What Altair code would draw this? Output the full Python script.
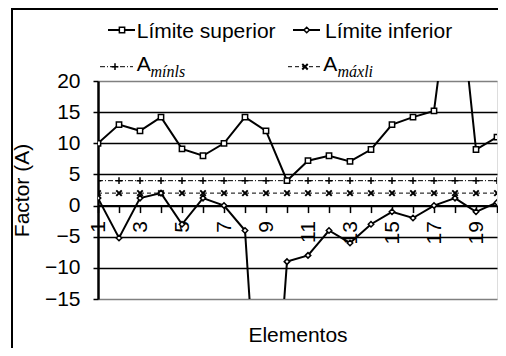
import altair as alt
import pandas as pd

# ---- data ----
elements = list(range(1, 21))
upper = [10, 13, 12, 14.2, 9.1, 8, 10, 14.2, 12, 4, 7.2, 8, 7.1, 9, 13, 14.2, 15.2, 41, 9, 11]
lower = [1.2, -5.2, 1.2, 2, -3, 1.2, 0, -4, -55, -9, -8, -4, -6, -3, -1, -2, 0, 1.2, -1, 0.5]
a_min = [4, 4, 4, 4, 4, 4, 4, 4, 4, 4, 4, 4, 4, 4, 4, 4, 4, 4, 4, 4]
a_max = [2, 2, 2, 2, 2, 2, 2, 2, 2, 2, 2, 2, 2, 2, 2, 2, 2, 2, 2, 2]
y_ticks = [-15, -10, -5, 0, 5, 10, 15, 20]

rows = []
for name, vals in [("sup", upper), ("inf", lower), ("amin", a_min), ("amax", a_max)]:
    for e, v in zip(elements, vals):
        rows.append({"elemento": e, "serie": name, "valor": v})
df = pd.DataFrame(rows)

W, H = 399, 218
FONT = "Liberation Sans"
FS = 21

xs = alt.Scale(domain=[1, 20], nice=False, zero=False)
ys = alt.Scale(domain=[-15, 20], nice=False, zero=False)

zero_offset = -(H - H * 20 / 35)

x_axis = alt.Axis(
    values=elements,
    labelExpr="datum.value % 2 == 1 ? datum.label : ''",
    labelAngle=270, labelFont=FONT, labelFontSize=FS, labelColor="black",
    labelPadding=8, labelFlush=False, labelOverlap=False,
    tickSize=7, tickColor="black", tickWidth=1.5,
    domainColor="black", domainWidth=2, grid=False,
    offset=zero_offset,
    title="Elementos", titleFont=FONT, titleFontSize=FS, titleFontWeight="normal",
    titleColor="black", titleX=W / 2, titleY=136, titleAlign="center",
    titleBaseline="alphabetic", titleAngle=0,
)
y_axis = alt.Axis(
    values=y_ticks, labelFont=FONT, labelFontSize=FS, labelColor="black",
    labelPadding=13, labelFlush=False,
    tickSize=5, tickColor="black", tickWidth=1.5,
    domainColor="black", domainWidth=2.5,
    grid=True, gridWidth=1.5,
    gridColor={"condition": {"test": "datum.value == 20 || datum.value == -15", "value": "#808080"},
               "value": "black"},
    title="Factor (A)", titleFont=FONT, titleFontSize=FS, titleFontWeight="normal",
    titleColor="black", titleX=-76, titleY=H / 2, titleAngle=270, titleAlign="center",
    titleBaseline="middle",
)

X = alt.X("elemento:Q", scale=xs, axis=x_axis)
Y = alt.Y("valor:Q", scale=ys, axis=y_axis)

base = alt.Chart(df)
PLUS = "M-1,0H1M0,-1V1"
CROSS = "M-1,-1L1,1M-1,1L1,-1"

def series(key, shape, size, dash=None, lw=2, pw=1.5, fill="white"):
    b = base.transform_filter(alt.datum.serie == key)
    lkw = dict(color="black", strokeWidth=lw, clip=True)
    if dash:
        lkw["strokeDash"] = dash
    line = b.mark_line(**lkw).encode(x=X, y=Y)
    pt = b.mark_point(shape=shape, size=size, fill=fill, filled=False, stroke="black",
                      strokeWidth=pw, opacity=1, fillOpacity=1, clip=True).encode(x=X, y=Y)
    return [line, pt]

layers = []
layers += series("amin", PLUS, 45, dash=[5, 2, 1, 2], lw=1, pw=1.5, fill="none")
layers += series("amax", CROSS, 30, dash=[4, 3], lw=1, pw=2, fill="none")
layers += series("sup", "square", 28)
layers += series("inf", "diamond", 30)

# ---- manual legend (so that the subscripts can be shown) ----
dummy = alt.Data(values=[{"k": 0}])

def legend_item(x0, x1, xm, y, shape, size, dash, lw, pw, fill, label, xt, yt, sub=None, xs_=None, ys_=None):
    out = []
    rk = dict(color="black", strokeWidth=lw)
    if dash:
        rk["strokeDash"] = dash
    out.append(alt.Chart(dummy).mark_rule(**rk).encode(
        x=alt.value(x0), x2=alt.value(x1), y=alt.value(y)))
    out.append(alt.Chart(dummy).mark_point(shape=shape, size=size, fill=fill, filled=False,
                                           stroke="black", strokeWidth=pw, opacity=1,
                                           fillOpacity=1).encode(x=alt.value(xm), y=alt.value(y)))
    out.append(alt.Chart(dummy).mark_text(align="left", baseline="alphabetic", font=FONT,
                                          fontSize=FS, color="black").encode(
        x=alt.value(xt), y=alt.value(yt), text=alt.value(label)))
    if sub:
        out.append(alt.Chart(dummy).mark_text(align="left", baseline="alphabetic",
                                              font="Liberation Serif", fontStyle="italic",
                                              fontSize=16, color="black").encode(
            x=alt.value(xs_), y=alt.value(ys_), text=alt.value(sub)))
    return out

layers += legend_item(10, 37, 24, -51, "square", 28, None, 2, 1.5, "white", "Límite superior", 38.7, -42.7)
layers += legend_item(195, 222, 208.7, -51, "diamond", 30, None, 2, 1.5, "white", "Límite inferior", 227, -42.7)
layers += legend_item(2, 35, 17, -14.3, PLUS, 45, [5, 2, 1, 2], 1, 1.5, "none", "A", 38.7, -10,
                      "mínls", 52.5, -4.3)
layers += legend_item(190, 222, 207, -14.3, CROSS, 30, [4, 3], 1, 2, "none", "A", 225.3, -10,
                      "máxli", 239.5, -4.3)

# ---- chart-area border (top and left edges visible in the frame) ----
layers.append(alt.Chart(dummy).mark_rule(color="black", strokeWidth=2).encode(
    x=alt.value(-86), y=alt.value(-72), y2=alt.value(270)))
layers.append(alt.Chart(dummy).mark_rule(color="black", strokeWidth=2).encode(
    x=alt.value(-87), x2=alt.value(400), y=alt.value(-72)))

chart = alt.layer(*layers).properties(
    width=W, height=H,
    autosize=alt.AutoSizeParams(type="none"),
    padding={"left": 90, "top": 73, "right": 1, "bottom": 49},
).configure_view(stroke="#808080", strokeWidth=2).configure(background="white")

chart.save("out.html", embed_options={"renderer": "svg", "actions": False})
